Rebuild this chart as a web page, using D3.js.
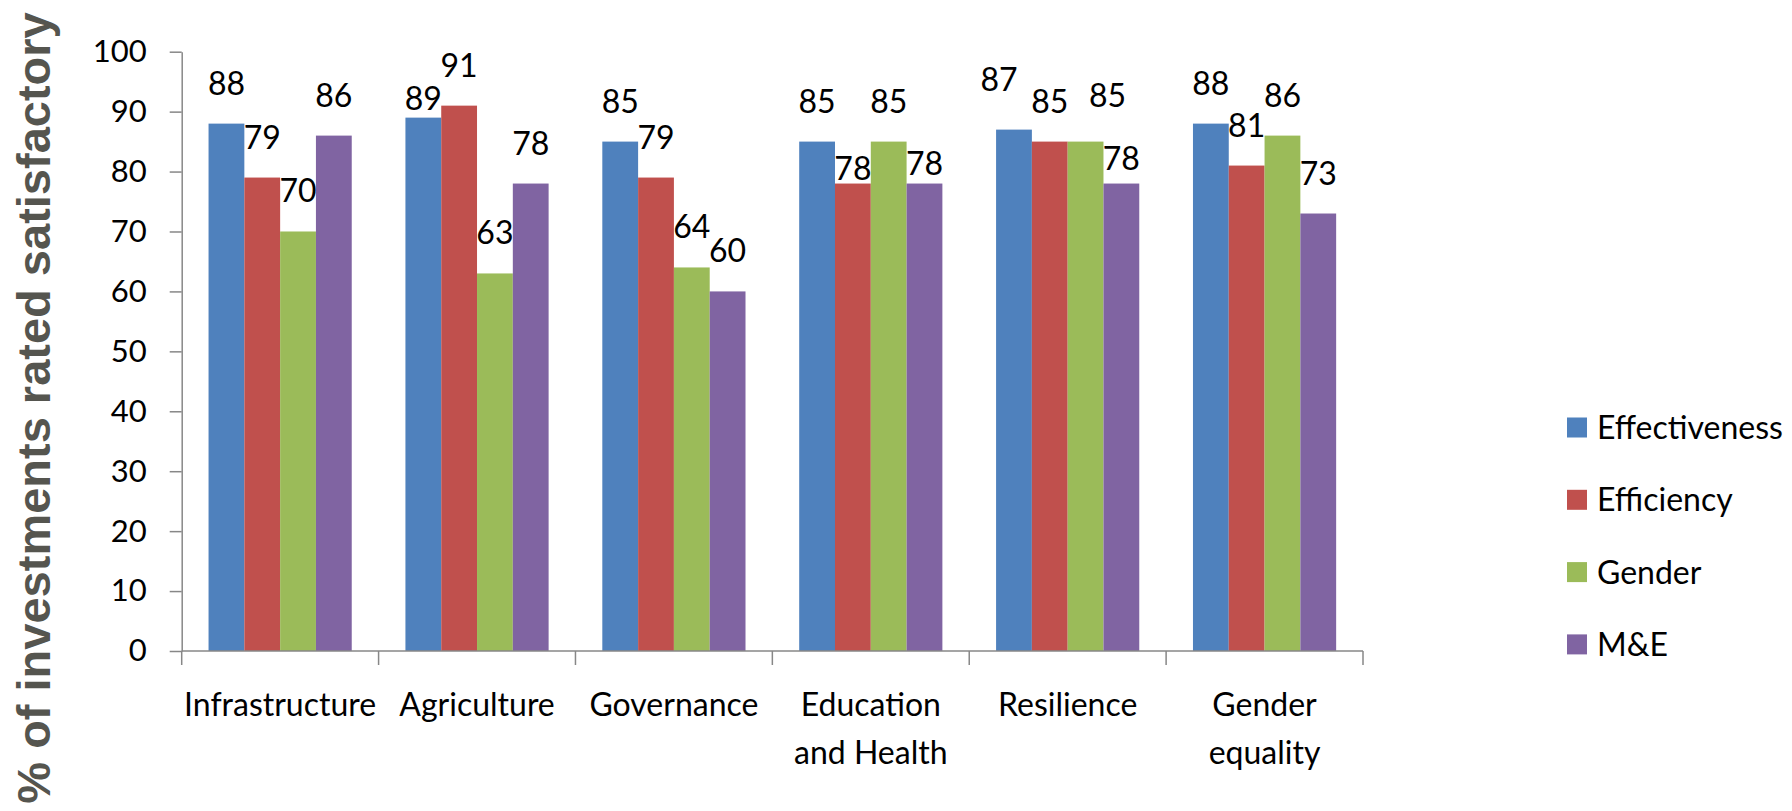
<!DOCTYPE html>
<html>
<head>
<meta charset="utf-8">
<script src="https://cdn.jsdelivr.net/npm/d3@7"></script>
<style>
  html, body { margin: 0; padding: 0; background: #fff; }
  svg { display: block; }
</style>
</head>
<body>
<div id="chart"></div>
<script>
// categories and series
const categories = ["Infrastructure", "Agriculture", "Governance", "Education and Health", "Resilience", "Gender equality"];
const tickLabels = [["Infrastructure"], ["Agriculture"], ["Governance"], ["Education", "and Health"], ["Resilience"], ["Gender", "equality"]];
const series = ["Effectiveness", "Efficiency", "Gender", "M&E"];

const effectiveness = [88, 89, 85, 85, 87, 88];
const efficiency    = [79, 91, 79, 78, 85, 81];
const gender        = [70, 63, 64, 85, 85, 86];
const mande         = [86, 78, 60, 78, 78, 73];

const yTicks = [0, 10, 20, 30, 40, 50, 60, 70, 80, 90, 100];

const width = 1792;
const height = 811;
const plot = { left: 181.7, right: 1363, top: 51.7, bottom: 651 };

const colors = {
    "Effectiveness": "#4F81BD",
    "Efficiency": "#C0504D",
    "Gender": "#9BBB59",
    "M&E": "#8064A2"
};

// a few labels were dragged by hand in the original
const labelNudge = {
    "Agriculture|Effectiveness": { dx: 0, dy: 21 },
    "Education and Health|Efficiency": { dx: 0, dy: 25 },
    "Education and Health|M&E": { dx: 0, dy: 20 },
    "Resilience|Effectiveness": { dx: -15, dy: -10 },
    "Resilience|Gender": { dx: 22, dy: -6 },
    "Resilience|M&E": { dx: 0, dy: 15 }
};

const values = { "Effectiveness": effectiveness, "Efficiency": efficiency, "Gender": gender, "M&E": mande };
const rows = [];
categories.forEach((c, i) => {
    series.forEach(s => rows.push({ category: c, series: s, value: values[s][i] }));
});

const font = "Lato, 'Open Sans', sans-serif";

const x0 = d3.scaleBand()
    .domain(categories)
    .range([plot.left, plot.right])
    .padding(0);

const x1 = d3.scaleBand()
    .domain(series)
    .range([0, x0.bandwidth()])
    .paddingInner(0)
    .paddingOuter(0.75);

const y = d3.scaleLinear()
    .domain([0, 100])
    .range([plot.bottom, plot.top]);

const svg = d3.select("#chart")
    .append("svg")
    .attr("width", width)
    .attr("height", height)
    .attr("viewBox", [0, 0, width, height]);

// bars
svg.append("g")
    .selectAll("rect")
    .data(rows)
    .join("rect")
        .attr("x", d => x0(d.category) + x1(d.series))
        .attr("y", d => y(d.value))
        .attr("width", x1.bandwidth())
        .attr("height", d => y(0) - y(d.value))
        .attr("fill", d => colors[d.series]);

// data labels
svg.append("g")
    .attr("font-family", font)
    .attr("font-size", 32)
    .attr("fill", "#000")
    .attr("text-anchor", "middle")
    .selectAll("text")
    .data(rows)
    .join("text")
        .attr("x", d => x0(d.category) + x1(d.series) + x1.bandwidth() / 2 + ((labelNudge[d.category + "|" + d.series] || {}).dx || 0))
        .attr("y", d => y(d.value) - 29 + ((labelNudge[d.category + "|" + d.series] || {}).dy || 0))
        .text(d => d.value);

// y-axis
const yAxis = svg.append("g")
    .attr("transform", `translate(${plot.left}, 0)`)
    .call(d3.axisLeft(y).tickValues(yTicks).tickSize(12).tickSizeOuter(0).tickPadding(23));
yAxis.selectAll("path, line").attr("stroke", "#878787").attr("stroke-width", 1.5);
yAxis.selectAll("text")
    .attr("font-family", font)
    .attr("font-size", 31)
    .attr("fill", "#000");

// x-axis line and category dividers
svg.append("line")
    .attr("x1", plot.left)
    .attr("x2", plot.right)
    .attr("y1", y(0))
    .attr("y2", y(0))
    .attr("stroke", "#878787")
    .attr("stroke-width", 1.5);

const bounds = categories.map(c => x0(c)).concat([x0.range()[1]]);
svg.append("g")
    .selectAll("line")
    .data(bounds)
    .join("line")
        .attr("x1", d => d)
        .attr("x2", d => d)
        .attr("y1", y(0))
        .attr("y2", y(0) + 14)
        .attr("stroke", "#878787")
        .attr("stroke-width", 1.5);

// category labels
const cat = svg.append("g")
    .attr("font-family", font)
    .attr("font-size", 32)
    .attr("fill", "#000")
    .attr("text-anchor", "middle")
    .selectAll("text")
    .data(categories)
    .join("text")
        .attr("x", d => x0(d) + x0.bandwidth() / 2)
        .attr("y", 716);
cat.selectAll("tspan")
    .data((d, i) => tickLabels[i])
    .join("tspan")
        .attr("x", function() { return this.parentNode.getAttribute("x"); })
        .attr("dy", (d, i) => i === 0 ? 0 : 48)
        .text(d => d);

// y title
svg.append("text")
    .attr("transform", `translate(50, 408) rotate(-90)`)
    .attr("text-anchor", "middle")
    .attr("font-family", "'Liberation Sans', Arial, sans-serif")
    .attr("font-weight", "bold")
    .attr("font-size", 47)
    .attr("fill", "#55554f")
    .text("% of investments rated satisfactory");

// legend
const legend = svg.append("g")
    .selectAll("g")
    .data(series)
    .join("g")
        .attr("transform", (d, i) => `translate(1567, ${427.5 + i * 72.3})`);
legend.append("rect")
    .attr("x", 0)
    .attr("y", -10)
    .attr("width", 20)
    .attr("height", 20)
    .attr("fill", d => colors[d]);
legend.append("text")
    .attr("x", 30)
    .attr("y", 11.5)
    .attr("font-family", font)
    .attr("font-size", 32)
    .attr("fill", "#000")
    .text(d => d);
</script>
</body>
</html>
